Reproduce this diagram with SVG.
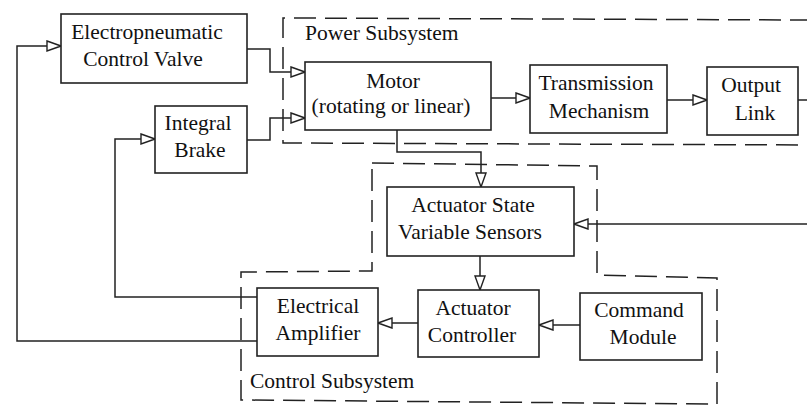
<svg xmlns="http://www.w3.org/2000/svg" width="807" height="405" viewBox="0 0 807 405">
<style>
.box{fill:#fff;stroke:#222;stroke-width:1.6}
.dash{fill:none;stroke:#222;stroke-width:1.5;stroke-dasharray:22 9}
.ln{fill:none;stroke:#222;stroke-width:1.5}
.arr{marker-end:url(#open)}
.c{text-anchor:middle}
</style>
<defs>
<marker id="open" markerUnits="userSpaceOnUse" markerWidth="16" markerHeight="12" refX="15" refY="6" orient="auto">
<path d="M1,1 L15,6 L1,11 Z" fill="#fff" stroke="#222" stroke-width="1.4"/>
</marker>
</defs>
<g font-family="Liberation Serif, DejaVu Serif, serif" font-size="21.5" fill="#111">
<g id="power-subsystem">
<path class="dash" d="M812,20 L283,18 L283,143 L812,145"/>
<text x="305" y="40">Power Subsystem</text>
</g>
<g id="control-subsystem">
<path class="dash" d="M372,163 L597,166 L597,275 L717,278 L717,404 L241,400 L241,272 L372,271 Z"/>
<text x="250" y="388">Control Subsystem</text>
</g>
<g id="connectors">
<path class="ln arr" d="M247,49 H270 V72 H305"/>
<path class="ln arr" d="M247,140 H270 V118 H305"/>
<path class="ln arr" d="M491,98 H530"/>
<path class="ln arr" d="M667,100 H707"/>
<path class="ln" d="M798,100 H807"/>
<path class="ln arr" d="M397,130 V152 H481 V187"/>
<path class="ln arr" d="M807,224 H574"/>
<path class="ln arr" d="M480,256 V290"/>
<path class="ln arr" d="M580,325 H539"/>
<path class="ln arr" d="M418,323 H378"/>
<path class="ln arr" d="M257,297 H115 V139 H155"/>
<path class="ln arr" d="M257,341 H17 V46 H61"/>
</g>
<g id="valve">
<rect class="box" x="61" y="14" width="186" height="69"/>
<text class="c" x="147" y="39">Electropneumatic</text>
<text class="c" x="143" y="66">Control Valve</text>
</g>
<g id="brake">
<rect class="box" x="155" y="106" width="92" height="67"/>
<text class="c" x="198" y="130">Integral</text>
<text class="c" x="200" y="157">Brake</text>
</g>
<g id="motor">
<rect class="box" x="305" y="62" width="186" height="68"/>
<text class="c" x="393" y="88">Motor</text>
<text class="c" x="391" y="113">(rotating or linear)</text>
</g>
<g id="transmission">
<rect class="box" x="530" y="65" width="137" height="68"/>
<text class="c" x="596" y="90">Transmission</text>
<text class="c" x="599" y="118">Mechanism</text>
</g>
<g id="output">
<rect class="box" x="707" y="67" width="91" height="68"/>
<text class="c" x="751" y="92">Output</text>
<text class="c" x="755" y="120">Link</text>
</g>
<g id="sensors">
<rect class="box" x="387" y="187" width="187" height="69"/>
<text class="c" x="473" y="212">Actuator State</text>
<text class="c" x="470" y="239">Variable Sensors</text>
</g>
<g id="amplifier">
<rect class="box" x="257" y="288" width="121" height="68"/>
<text class="c" x="318" y="313">Electrical</text>
<text class="c" x="318" y="340">Amplifier</text>
</g>
<g id="controller">
<rect class="box" x="418" y="290" width="121" height="67"/>
<text class="c" x="473" y="315">Actuator</text>
<text class="c" x="472" y="342">Controller</text>
</g>
<g id="command">
<rect class="box" x="580" y="293" width="122" height="67"/>
<text class="c" x="639" y="317">Command</text>
<text class="c" x="643" y="344">Module</text>
</g>
</g>
</svg>
